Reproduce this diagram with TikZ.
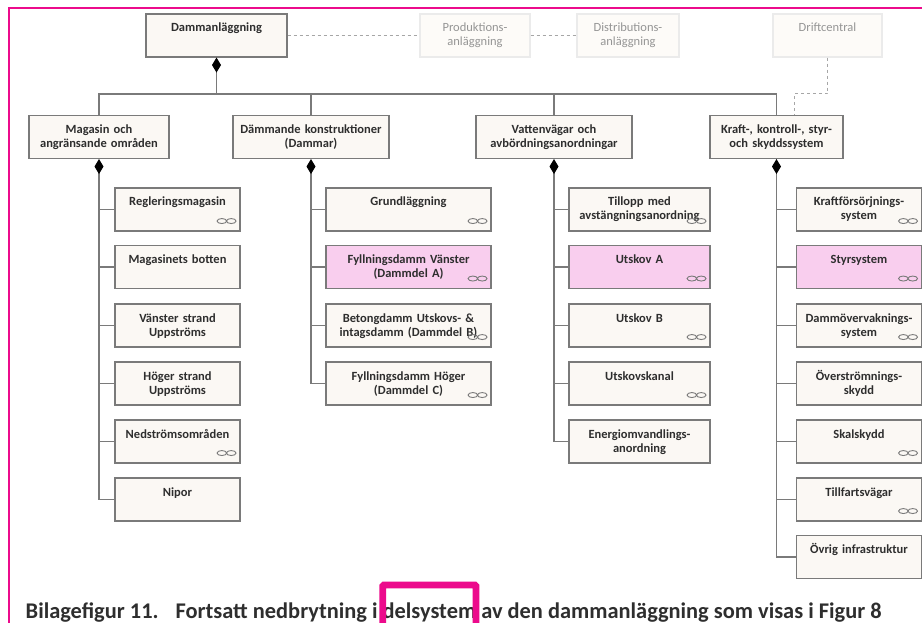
\documentclass[tikz,border=0pt]{standalone}
\usepackage{fontspec}
\setmainfont{Carlito}
\usetikzlibrary{arrows.meta}
\definecolor{boxfill}{HTML}{FBF8F4}
\definecolor{pinkfill}{HTML}{F9CEEE}
\definecolor{edgegray}{HTML}{7A7A7A}
\definecolor{textgray}{HTML}{2E2E2E}
\definecolor{faintgray}{HTML}{959595}
\definecolor{framepink}{HTML}{EC0B8C}
\begin{document}
\begin{tikzpicture}[x = 1pt, y = -1pt, >={Diamond[color=black, length=15pt, width=9pt]},
	part/.style = {draw = edgegray, fill = boxfill, line width = 1.1pt, inner sep = 0pt, align = center, text = textgray, text height = 18pt, text depth = 25pt, font = \fontsize{12.5}{14}\selectfont\bfseries},
	faint/.style = {part, draw = black!8, fill = boxfill!60, text = faintgray, font = \fontsize{12.5}{14}\selectfont},
	marked/.style = {fill = pinkfill},
	conn/.style = {draw = edgegray, line width = 1.1pt},
	dashconn/.style = {draw = black!35, line width = 1pt, dashed},
	link/.pic = {\draw[edgegray, line width = 0.9pt] (-4.7,0) ellipse (4.8 and 2.5) (4.7,0) ellipse (4.8 and 2.5);}]
	\useasboundingbox (0,0) rectangle (922,623);
	\fill[white] (0,0) rectangle (922,623);
	\node[part, text width = 141pt] (dam) at (216.5,35.5) {Dammanläggning};
	\node[faint, text width = 110pt] (pro) at (475,35.5) {Produktions-\\anläggning};
	\node[faint, text width = 102pt] (dis) at (628,35.5) {Distributions-\\anläggning};
	\node[faint, text width = 109pt] (dri) at (827.5,35.5) {Driftcentral};
	\node[part, text width = 140pt] (mag) at (99,137) {Magasin och\\angränsande områden};
	\node[part, text width = 156pt] (dae) at (311,137) {Dämmande konstruktioner\\(Dammar)};
	\node[part, text width = 156pt] (vat) at (554,137) {Vattenvägar och\\avbördningsanordningar};
	\node[part, text width = 133pt] (kra) at (776.5,137) {Kraft-, kontroll-, styr-\\och skyddssystem};
	\node[part, text width = 125pt] (reg) at (177.5,209.5) {Regleringsmagasin};
	\node[part, text width = 125pt] (bot) at (177.5,267) {Magasinets botten};
	\node[part, text width = 125pt] (vst) at (177.5,325.5) {Vänster strand\\Uppströms};
	\node[part, text width = 125pt] (hst) at (177.5,383.5) {Höger strand\\Uppströms};
	\node[part, text width = 125pt] (ned) at (177.5,441.5) {Nedströmsområden};
	\node[part, text width = 125pt] (nip) at (177.5,499.5) {Nipor};
	\node[part, text width = 165pt] (gru) at (408.5,209.5) {Grundläggning};
	\node[part, marked, text width = 165pt] (fva) at (408.5,267) {Fyllningsdamm Vänster\\(Dammdel A)};
	\node[part, text width = 165pt] (bet) at (408.5,325.5) {Betongdamm Utskovs- \&\\intagsdamm (Dammdel B)};
	\node[part, text width = 165pt] (fho) at (408.5,383.5) {Fyllningsdamm Höger\\(Dammdel C)};
	\node[part, text width = 141pt] (til) at (639.5,209.5) {Tillopp med\\avstängningsanordning};
	\node[part, marked, text width = 141pt] (uta) at (639.5,267) {Utskov A};
	\node[part, text width = 141pt] (utb) at (639.5,325.5) {Utskov B};
	\node[part, text width = 141pt] (kan) at (639.5,383.5) {Utskovskanal};
	\node[part, text width = 141pt] (ene) at (639.5,441.5) {Energiomvandlings-\\anordning};
	\node[part, text width = 125pt] (kfs) at (859,209.5) {Kraftförsörjnings-\\system};
	\node[part, marked, text width = 125pt] (sty) at (859,267) {Styrsystem};
	\node[part, text width = 125pt] (dov) at (859,325.5) {Dammövervaknings-\\system};
	\node[part, text width = 125pt] (ovs) at (859,383.5) {Överströmnings-\\skydd};
	\node[part, text width = 125pt] (ska) at (859,441.5) {Skalskydd};
	\node[part, text width = 125pt] (tif) at (859,499.5) {Tillfartsvägar};
	\node[part, text width = 125pt] (ovr) at (859,557) {Övrig infrastruktur};
	\coordinate (bus) at (216.5,94);
	\coordinate (drk) at (794,94);
	\draw[conn, <-] (dam.south) -- (bus);
	\draw[conn] (mag.north) |- (bus) -| (kra.north);
	\draw[conn] (dae.north) -- (dae.north |- bus);
	\draw[conn] (vat.north) -- (vat.north |- bus);
	\draw[dashconn] (dam.east) -- (pro.west);
	\draw[dashconn] (pro.east) -- (dis.west);
	\draw[dashconn] (dri.south) |- (drk) -- (drk |- kra.north);
	\draw[conn, <-] (mag.south) |- (nip.west);
	\draw[conn] (mag.south |- reg.west) -- (reg.west);
	\draw[conn] (mag.south |- bot.west) -- (bot.west);
	\draw[conn] (mag.south |- vst.west) -- (vst.west);
	\draw[conn] (mag.south |- hst.west) -- (hst.west);
	\draw[conn] (mag.south |- ned.west) -- (ned.west);
	\draw[conn, <-] (dae.south) |- (fho.west);
	\draw[conn] (dae.south |- gru.west) -- (gru.west);
	\draw[conn] (dae.south |- fva.west) -- (fva.west);
	\draw[conn] (dae.south |- bet.west) -- (bet.west);
	\draw[conn, <-] (vat.south) |- (ene.west);
	\draw[conn] (vat.south |- til.west) -- (til.west);
	\draw[conn] (vat.south |- uta.west) -- (uta.west);
	\draw[conn] (vat.south |- utb.west) -- (utb.west);
	\draw[conn] (vat.south |- kan.west) -- (kan.west);
	\draw[conn, <-] (kra.south) |- (ovr.west);
	\draw[conn] (kra.south |- kfs.west) -- (kfs.west);
	\draw[conn] (kra.south |- sty.west) -- (sty.west);
	\draw[conn] (kra.south |- dov.west) -- (dov.west);
	\draw[conn] (kra.south |- ovs.west) -- (ovs.west);
	\draw[conn] (kra.south |- ska.west) -- (ska.west);
	\draw[conn] (kra.south |- tif.west) -- (tif.west);
	\pic at ([xshift=-14pt, yshift=10.5pt]reg.south east) {link};
	\pic at ([xshift=-14pt, yshift=10.5pt]ned.south east) {link};
	\pic at ([xshift=-14pt, yshift=10.5pt]gru.south east) {link};
	\pic at ([xshift=-14pt, yshift=10.5pt]fva.south east) {link};
	\pic at ([xshift=-14pt, yshift=10.5pt]bet.south east) {link};
	\pic at ([xshift=-14pt, yshift=10.5pt]fho.south east) {link};
	\pic at ([xshift=-14pt, yshift=10.5pt]til.south east) {link};
	\pic at ([xshift=-14pt, yshift=10.5pt]uta.south east) {link};
	\pic at ([xshift=-14pt, yshift=10.5pt]utb.south east) {link};
	\pic at ([xshift=-14pt, yshift=10.5pt]kan.south east) {link};
	\pic at ([xshift=-14pt, yshift=10.5pt]kfs.south east) {link};
	\pic at ([xshift=-14pt, yshift=10.5pt]sty.south east) {link};
	\pic at ([xshift=-14pt, yshift=10.5pt]dov.south east) {link};
	\pic at ([xshift=-14pt, yshift=10.5pt]ska.south east) {link};
	\pic at ([xshift=-14pt, yshift=10.5pt]tif.south east) {link};
	\node[anchor = base west, inner sep = 0pt, text = textgray, font = \fontsize{22.4}{24}\selectfont\bfseries] (cap) at (25.5,618) {Bilagefigur 11.\hspace{17pt}Fortsatt nedbrytning i delsystem av den dammanläggning som visas i Figur 8};
	\draw[framepink, line width = 2pt] (8.5,623) |- (922,8);
	\draw[framepink, line width = 6.6pt, rounded corners = 1pt] (382.7,623) |- (476,585) -- (476,623);
\end{tikzpicture}
\end{document}
